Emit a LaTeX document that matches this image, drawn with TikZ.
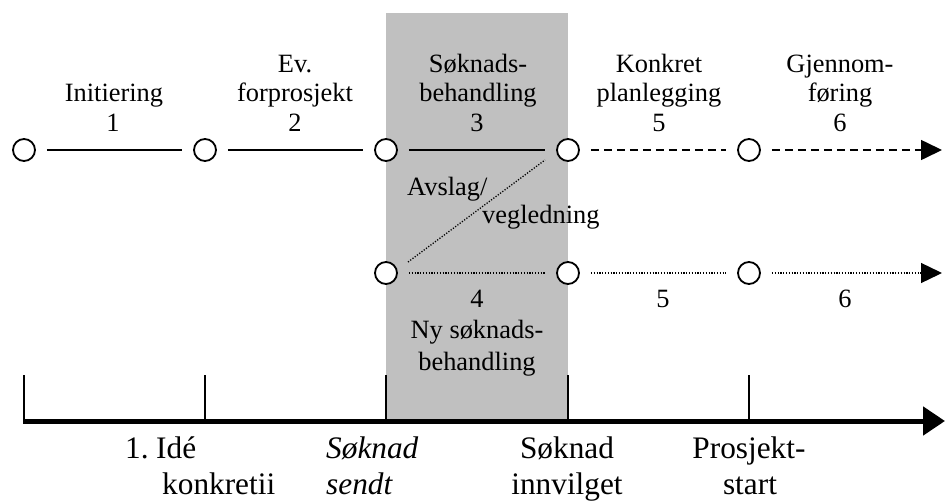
\documentclass[tikz,border=0pt]{standalone}
\usepackage{fontspec}
\setmainfont{Liberation Serif}
\usetikzlibrary{arrows.meta}
\definecolor{bggray}{RGB}{192,192,192}
\begin{document}
\begin{tikzpicture}[x=1pt,y=-1pt,
  state/.style={circle,draw,line width=1.8pt,fill=white,minimum size=22pt,inner sep=0pt},
  solidline/.style={line width=1.6pt,shorten <=11pt,shorten >=11pt},
  dashline/.style={line width=1.6pt,dash pattern=on 8pt off 5pt,shorten <=11pt},
  dotline/.style={line width=1.3pt,dash pattern=on 1.2pt off 1.6pt},
  tiphead/.style={-{Triangle[length=21pt,width=20pt]}},
  tl/.style={anchor=base,inner sep=0pt,font=\fontsize{26.4}{30}\selectfont},
  tlw/.style={anchor=base west,inner sep=0pt,font=\fontsize{26.4}{30}\selectfont},
  bl/.style={anchor=base,inner sep=0pt,font=\fontsize{31.3}{36}\selectfont},
  blw/.style={anchor=base west,inner sep=0pt,font=\fontsize{31.3}{36}\selectfont},
  tickline/.style={line width=1.7pt}]
\useasboundingbox (0,0) rectangle (945,501);
% shaded phase
\fill[bggray] (386,13) rectangle (568,421);

% states, row 1
\node[state] (a1) at (24,150) {};
\node[state] (a2) at (205,150) {};
\node[state] (a3) at (386,150) {};
\node[state] (a5) at (568,150) {};
\node[state] (a6) at (749,150) {};
\coordinate (aend) at (942,150);
% states, row 2
\node[state] (b3) at (386,273) {};
\node[state] (b5) at (568,273) {};
\node[state] (b6) at (749,273) {};
\coordinate (bend) at (942,273);

% row 1 connectors
\draw[solidline] (a1) -- (a2);
\draw[solidline] (a2) -- (a3);
\draw[solidline] (a3) -- (a5);
\draw[dashline,shorten >=11pt] (a5) -- (a6);
\draw[dashline,tiphead] (a6) -- (aend);
% row 2 connectors
\draw[dotline,shorten <=11pt,shorten >=11pt] (b3) -- (b5);
\draw[dotline,shorten <=11pt,shorten >=11pt] (b5) -- (b6);
\draw[dotline,shorten <=11pt,tiphead] (b6) -- (bend);
% diagonal
\draw[dotline] ([shift={(22,-11)}]b3.center) -- ([shift={(-23,10)}]a5.center);

% top labels
\node[tl] (l1a) at (114,101) {Initiering};
\node[tl] (l1b) at (113,131) {1};
\node[tl] (l2a) at (295,72) {Ev.};
\node[tl] (l2b) at (295,101) {forprosjekt};
\node[tl] (l2c) at (295,131) {2};
\node[tl] (l3a) at (478,72) {Søknads-};
\node[tl] (l3b) at (478,101) {behandling};
\node[tl] (l3c) at (477,131) {3};
\node[tl] (l5a) at (659,72) {Konkret};
\node[tl] (l5b) at (659,101) {planlegging};
\node[tl] (l5c) at (659,131) {5};
\node[tl] (l6a) at (840,72) {Gjennom-};
\node[tl] (l6b) at (840,101) {føring};
\node[tl] (l6c) at (840,131) {6};
% reject labels
\node[tlw] (avs) at (407,195) {Avslag/};
\node[tlw] (veg) at (482,223) {vegledning};
% row 2 labels
\node[tl] (m4a) at (477,307) {4};
\node[tl] (m4b) at (477,338) {Ny søknads-};
\node[tl] (m4c) at (477,370) {behandling};
\node[tl] (m5) at (663,307) {5};
\node[tl] (m6) at (845,307) {6};

% time axis
\coordinate (ax0) at (23,421);
\coordinate (ax1) at (945,421);
\foreach \x in {24,205,386,568,749} \draw[tickline] (\x,375) -- (\x,421);
\draw[line width=5pt,-{Triangle[length=22pt,width=28pt]}] (ax0) -- (ax1);

% bottom labels
\node[blw] (k1n) at (125,458) {1.};
\node[blw] (k1a) at (156,458) {Idé};
\node[blw] (k1b) at (162,494) {konkretii};
\node[blw] (k2a) at (326,458) {\itshape Søknad};
\node[blw] (k2b) at (326,494) {\itshape sendt};
\node[bl] (k3a) at (567,458) {Søknad};
\node[bl] (k3b) at (567,494) {innvilget};
\node[bl] (k4a) at (749,458) {Prosjekt-};
\node[bl] (k4b) at (750,494) {start};
\end{tikzpicture}
\end{document}
